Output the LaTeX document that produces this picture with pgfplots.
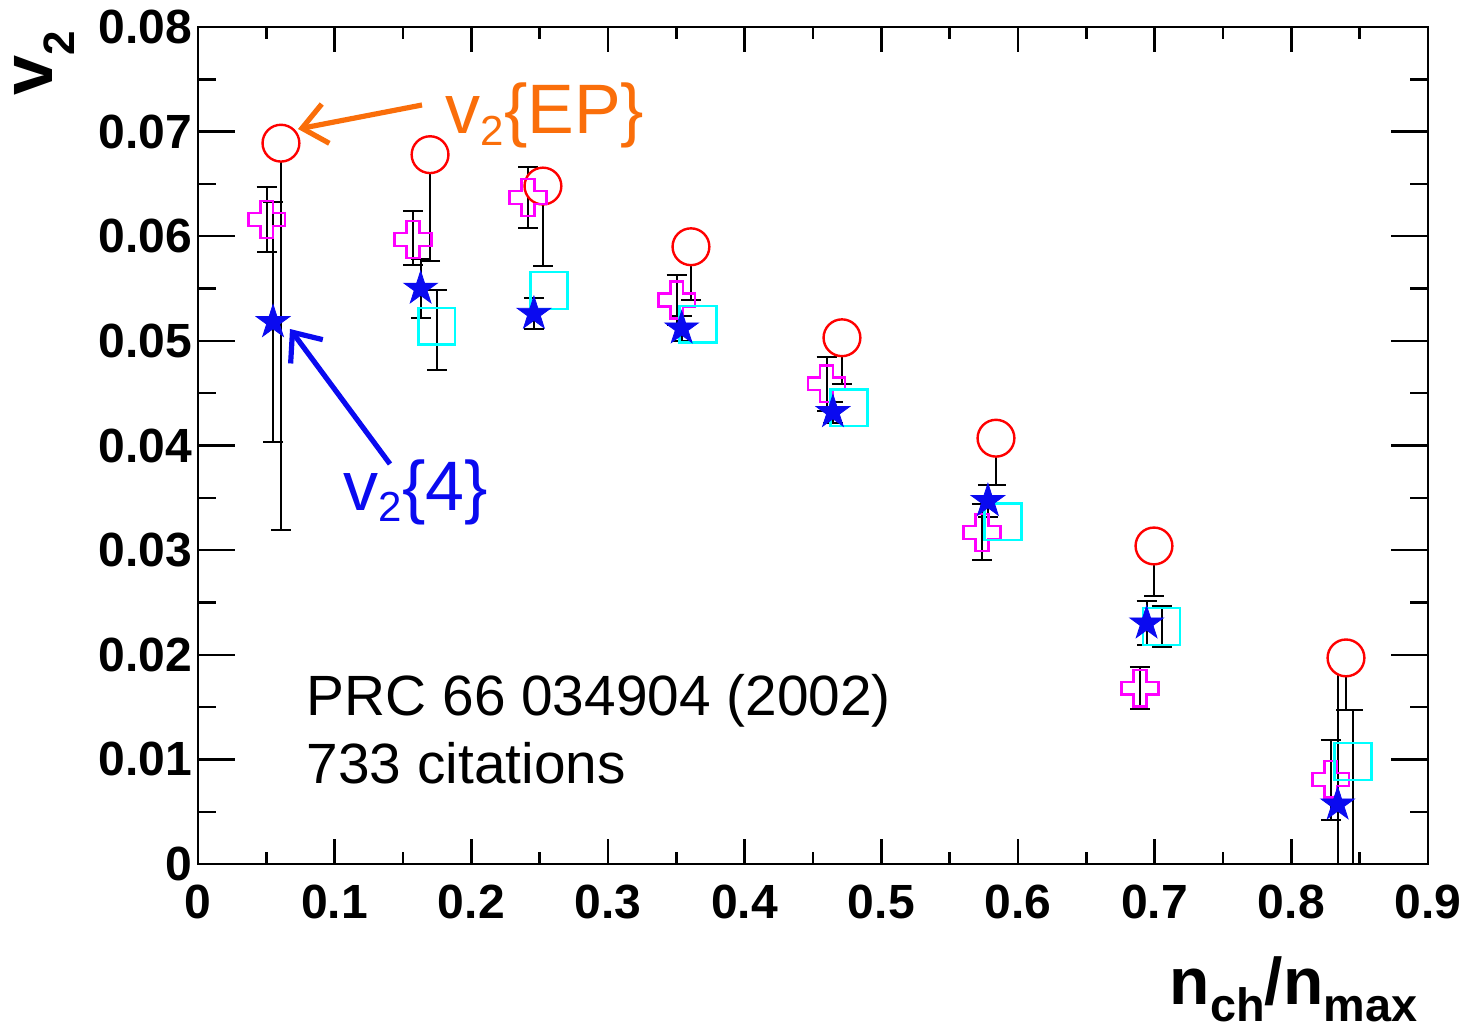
\documentclass[border=0pt]{standalone}
\usepackage{fontspec}
\setmainfont{Liberation Sans}
\usepackage{pgfplots}
\pgfplotsset{compat=1.18}
\usepackage{pgfplotstable}
\usetikzlibrary{arrows.meta}
\definecolor{epor}{RGB}{250,110,10}
\definecolor{vblue}{RGB}{10,10,240}
\definecolor{mag}{RGB}{255,0,255}
\definecolor{cyn}{RGB}{0,255,255}

\pgfdeclareplotmark{opencross}{%
  \pgfpathmoveto{\pgfqpoint{-0.35\pgfplotmarksize}{\pgfplotmarksize}}%
  \pgfpathlineto{\pgfqpoint{0.35\pgfplotmarksize}{\pgfplotmarksize}}%
  \pgfpathlineto{\pgfqpoint{0.35\pgfplotmarksize}{0.35\pgfplotmarksize}}%
  \pgfpathlineto{\pgfqpoint{\pgfplotmarksize}{0.35\pgfplotmarksize}}%
  \pgfpathlineto{\pgfqpoint{\pgfplotmarksize}{-0.35\pgfplotmarksize}}%
  \pgfpathlineto{\pgfqpoint{0.35\pgfplotmarksize}{-0.35\pgfplotmarksize}}%
  \pgfpathlineto{\pgfqpoint{0.35\pgfplotmarksize}{-\pgfplotmarksize}}%
  \pgfpathlineto{\pgfqpoint{-0.35\pgfplotmarksize}{-\pgfplotmarksize}}%
  \pgfpathlineto{\pgfqpoint{-0.35\pgfplotmarksize}{-0.35\pgfplotmarksize}}%
  \pgfpathlineto{\pgfqpoint{-\pgfplotmarksize}{-0.35\pgfplotmarksize}}%
  \pgfpathlineto{\pgfqpoint{-\pgfplotmarksize}{0.35\pgfplotmarksize}}%
  \pgfpathlineto{\pgfqpoint{-0.35\pgfplotmarksize}{0.35\pgfplotmarksize}}%
  \pgfpathclose\pgfusepathqstroke}

\pgfdeclareplotmark{fstar}{%
  \pgfpathmoveto{\pgfpointpolar{90}{\pgfplotmarksize}}%
  \pgfpathlineto{\pgfpointpolar{126}{0.382\pgfplotmarksize}}%
  \pgfpathlineto{\pgfpointpolar{162}{\pgfplotmarksize}}%
  \pgfpathlineto{\pgfpointpolar{198}{0.382\pgfplotmarksize}}%
  \pgfpathlineto{\pgfpointpolar{234}{\pgfplotmarksize}}%
  \pgfpathlineto{\pgfpointpolar{270}{0.382\pgfplotmarksize}}%
  \pgfpathlineto{\pgfpointpolar{306}{\pgfplotmarksize}}%
  \pgfpathlineto{\pgfpointpolar{342}{0.382\pgfplotmarksize}}%
  \pgfpathlineto{\pgfpointpolar{18}{\pgfplotmarksize}}%
  \pgfpathlineto{\pgfpointpolar{54}{0.382\pgfplotmarksize}}%
  \pgfpathclose\pgfusepathqfillstroke}

\pgfplotstableread{
x y ep em
0.0607 0.0689 0 0.0370
0.1698 0.0678 0 0.0102
0.2524 0.0648 0 0.0076
0.3607 0.0590 0 0.0051
0.4712 0.0503 0 0.0044
0.5839 0.0407 0 0.0045
0.6995 0.0304 0 0.0048
0.8400 0.0197 0 0.0050
}\epdata

\pgfplotstableread{
x y ep em
0.0503 0.0616 0.0031 0.0031
0.1573 0.0597 0.0027 0.0024
0.2415 0.0637 0.0029 0.0029
0.3503 0.0539 0.0024 0.0024
0.4600 0.0459 0.0026 0.0026
0.5736 0.0317 0.0027 0.0026
0.6892 0.0168 0.0020 0.0020
0.8289 0.0081 0.0038 0.0039
}\crossdata

\pgfplotstableread{
x y ep em
0.1747 0.0514 0.0035 0.0042
0.7051 0.0227 0.0020 0.0020
0.8451 0.0098 0.0049 0.0120
}\sqdata

\pgfplotstableread{
x y
0.2568 0.0548
0.3658 0.0516
0.4763 0.0436
0.5890 0.0327
}\sqdatab

\pgfplotstableread{
x y ep em
0.0549 0.0518 0.0115 0.0115
0.1629 0.0550 0.0028 0.0028
0.2458 0.0526 0.0015 0.0015
0.3539 0.0512 0.0012 0.0012
0.4646 0.0432 0.0010 0.0010
0.5780 0.0347 0.0015 0.0015
0.6941 0.0230 0.0021 0.0021
0.8339 0.0057 0.0147 0.0147
}\stardata

\begin{document}
\begin{tikzpicture}
\begin{axis}[
  scale only axis, width=307.5pt, height=209.25pt,
  xmin=0, xmax=0.9, ymin=0, ymax=0.08,
  scaled x ticks=false, scaled y ticks=false,
  xtick={0,0.1,0.2,0.3,0.4,0.5,0.6,0.7,0.8,0.9},
  xticklabels={0,0.1,0.2,0.3,0.4,0.5,0.6,0.7,0.8,0.9},
  ytick={0,0.01,0.02,0.03,0.04,0.05,0.06,0.07,0.08},
  yticklabels={0,0.01,0.02,0.03,0.04,0.05,0.06,0.07,0.08},
  minor x tick num=1, minor y tick num=1,
  tick align=inside, xtick pos=both, ytick pos=both,
  axis line style={line width=0.6pt},
  every tick/.style={black, line width=0.6pt},
  major tick length=7.5pt, minor tick length=3.75pt,
  xtick style={/pgfplots/major tick length=6.25pt, /pgfplots/minor tick length=3pt},
  ytick style={/pgfplots/major tick length=9.25pt, /pgfplots/minor tick length=4.6pt},
  ticklabel style={font=\fontsize{12}{12}\selectfont\bfseries},
  xticklabel style={inner sep=0pt, yshift=-5pt},
  yticklabel style={inner sep=0pt, xshift=-1.25pt},
  error bars/error bar style={black, line width=0.5pt},
  error bars/error mark options={black, mark size=2.5pt, line width=0.5pt, rotate=90},
]
\addplot[only marks, mark=*, mark size=4.6pt, mark options={draw=red, fill=white, line width=0.6pt},
  error bars/.cd, y dir=both, y explicit]
  table[x=x, y=y, y error plus=ep, y error minus=em]{\epdata};
\addplot[only marks, mark=opencross, mark size=4.6pt, mark options={draw=mag, line width=0.6pt},
  error bars/.cd, y dir=both, y explicit]
  table[x=x, y=y, y error plus=ep, y error minus=em]{\crossdata};
\addplot[only marks, mark=square, mark size=4.6pt, mark options={draw=cyn, line width=0.6pt},
  error bars/.cd, y dir=both, y explicit]
  table[x=x, y=y, y error plus=ep, y error minus=em]{\sqdata};
\addplot[only marks, mark=square, mark size=4.6pt, mark options={draw=cyn, line width=0.6pt}]
  table[x=x, y=y]{\sqdatab};
\addplot[only marks, mark=fstar, mark size=4.4pt, mark options={draw=vblue, fill=vblue, line width=0.2pt},
  error bars/.cd, y dir=both, y explicit]
  table[x=x, y=y, y error plus=ep, y error minus=em]{\stardata};
\end{axis}
% annotations in absolute pt (1px = 0.25pt, origin at plot box lower left)
\draw[epor, line width=1.3pt, -{Straight Barb[length=6pt, width=10pt]}]
  (56pt,189.75pt) -- (25pt,183.75pt);
\draw[vblue, line width=1.3pt, -{Straight Barb[length=6pt, width=10pt]}]
  (48pt,100pt) -- (23pt,133.75pt);
\node[anchor=base west, inner sep=0pt, text=epor, font=\fontsize{17.5}{17.5}\selectfont]
  at (61.75pt,182.5pt) {v\raisebox{-0.16em}{\fontsize{10.5}{10.5}\selectfont 2}\{EP\}};
\node[anchor=base west, inner sep=0pt, text=vblue, font=\fontsize{17.5}{17.5}\selectfont]
  at (36.25pt,88.5pt) {v\raisebox{-0.16em}{\fontsize{10.5}{10.5}\selectfont 2}\{4\}};
\node[anchor=base west, inner sep=0pt, align=left, font=\fontsize{14.2}{17}\selectfont]
  at (27pt,37.25pt) {PRC 66 034904 (2002)};
\node[anchor=base west, inner sep=0pt, align=left, font=\fontsize{14.2}{17}\selectfont]
  at (27pt,20.25pt) {733 citations};
\node[anchor=base east, inner sep=0pt, font=\fontsize{16.5}{16.5}\selectfont\bfseries]
  at (305pt,-35pt) {n\raisebox{-0.27em}{\fontsize{11.7}{11.7}\selectfont ch}/n\raisebox{-0.27em}{\fontsize{11.7}{11.7}\selectfont max}};
\node[anchor=base east, inner sep=0pt, rotate=90, font=\fontsize{18}{18}\selectfont\bfseries]
  at (-36.25pt,208.5pt) {v\raisebox{-0.3em}{\fontsize{11}{11}\selectfont 2}};
\pgfresetboundingbox
\path[use as bounding box] (-49.5pt,-41.5pt) rectangle (316.5pt,216pt);
\end{tikzpicture}
\end{document}
